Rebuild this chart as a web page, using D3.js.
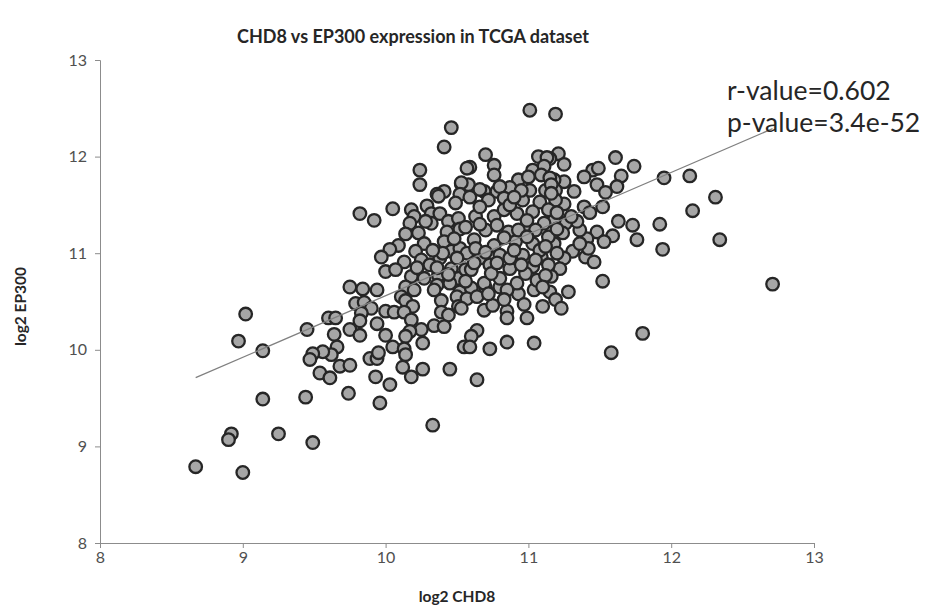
<!DOCTYPE html>
<html>
<head>
<meta charset="utf-8">
<script src="https://cdn.jsdelivr.net/npm/d3@7"></script>
<style>
  html, body { margin: 0; padding: 0; background: #fff; }
  svg { display: block; font-family: Lato, "Open Sans", sans-serif; }
</style>
</head>
<body>
<svg id="chart" width="925" height="605"></svg>
<script>
// Sample expression values (log2) for each tumour sample
const chd8 = [
  9.02, 8.97, 9.14, 9.45, 9.60, 9.65, 9.75, 9.84, 9.94, 9.79, 9.85, 9.90, 9.83, 9.82, 9.75, 9.82, 9.94, 9.64, 9.66, 9.62,
  9.56, 9.49, 9.47, 9.68, 9.75, 9.89, 9.94, 9.54, 9.61, 9.93, 9.74, 9.44, 9.14, 9.96, 8.92, 8.90, 9.25, 9.49, 8.67, 9.00,
  11.74, 11.95, 12.13, 12.31, 12.15, 11.73, 11.92, 11.76, 12.34, 11.94, 12.71, 11.80,
  11.19, 11.21, 11.25, 11.15, 11.61, 11.45, 11.49, 11.39, 11.65, 11.48, 11.62, 11.54, 11.25, 11.18, 11.32, 11.19,
  11.01, 10.70, 10.59, 10.76, 10.76, 11.07, 11.13, 11.03, 11.11, 11.09, 10.93, 11.00, 10.87, 11.15, 10.53, 10.58,
  10.69, 10.78, 11.01, 11.12, 11.16, 10.80,
  10.46, 10.41, 10.24, 10.24, 10.57, 10.53, 10.41, 10.36, 10.52, 9.82, 9.92,
  10.05, 10.18, 10.20, 10.17, 10.29, 10.37, 10.49, 10.32, 10.38, 10.32, 10.44, 10.51, 10.23, 10.43, 10.52, 10.27, 10.41,
  10.09, 10.03, 9.97, 10.21, 10.13, 10.25, 10.46, 10.38, 10.52, 10.31, 10.00, 10.07, 10.18, 10.27, 10.37, 10.46, 10.51,
  10.14, 10.36, 10.45, 10.56,
  10.11, 10.20, 10.34, 10.52, 10.14, 10.19, 10.39, 10.50, 10.51, 10.00, 10.06, 10.13, 10.39, 10.44, 10.18, 10.25, 10.34,
  10.41, 10.17, 10.00, 10.14, 10.26, 10.05, 10.13, 10.14, 9.95, 10.12, 10.26, 10.18, 10.45, 10.03, 10.55,
  10.60, 10.70, 10.80, 10.93, 11.04, 11.15, 10.57, 10.64, 10.53, 10.69, 10.75, 10.85, 10.85, 10.99, 11.19, 10.64, 10.60,
  10.59, 10.73, 10.85, 11.04, 10.64, 10.33,
  11.28, 11.23, 11.52, 11.58,
  11.25, 11.19, 11.52, 11.39, 11.43, 11.63, 11.48, 11.59, 11.53, 11.41, 11.36, 11.34, 11.26, 11.18, 11.24, 11.18, 11.31,
  11.40, 11.46, 11.25, 11.22, 11.16, 11.42, 11.20,
  10.59, 10.72, 10.83, 10.96, 11.08, 11.16, 10.63, 10.76, 10.83, 10.92, 11.03, 11.14, 10.56, 10.70, 10.86, 10.99, 11.11,
  10.62, 10.76, 10.91, 11.03, 11.14, 10.57, 10.66, 10.80, 10.96, 11.09, 10.60, 10.73, 10.87, 11.03, 11.14, 10.56, 10.69,
  10.80, 10.92, 11.06, 10.66, 10.87, 10.99, 10.78, 11.08, 10.87, 10.74, 10.98, 11.12, 10.63, 10.93, 11.05, 11.12,
  10.66, 10.83, 10.99, 10.70, 10.90, 11.05, 10.78, 10.95, 10.62, 10.50, 10.48, 10.95, 10.90, 10.66, 11.20, 11.20, 11.10,
  10.85, 10.72, 10.40, 10.33, 10.28, 10.36, 10.44, 10.22, 10.14, 11.36, 11.30, 10.97, 10.83, 11.10
];
const ep300 = [
  10.37, 10.09, 9.99, 10.21, 10.33, 10.33, 10.65, 10.63, 10.62, 10.48, 10.49, 10.43, 10.38, 10.30, 10.21, 10.15, 10.27, 10.16, 10.03, 9.95,
  9.98, 9.96, 9.90, 9.83, 9.84, 9.91, 9.91, 9.76, 9.71, 9.72, 9.55, 9.51, 9.49, 9.45, 9.13, 9.07, 9.13, 9.04, 8.79, 8.73,
  11.90, 11.78, 11.80, 11.58, 11.44, 11.29, 11.30, 11.14, 11.14, 11.04, 10.68, 10.17,
  12.44, 12.03, 11.92, 11.98, 11.99, 11.86, 11.88, 11.79, 11.80, 11.71, 11.69, 11.63, 11.74, 11.76, 11.64, 11.65,
  12.48, 12.02, 11.89, 11.91, 11.81, 12.00, 11.99, 11.86, 11.90, 11.81, 11.76, 11.79, 11.68, 11.78, 11.72, 11.71,
  11.64, 11.64, 11.65, 11.65, 11.71, 11.69,
  12.30, 12.10, 11.86, 11.71, 11.88, 11.73, 11.64, 11.61, 11.61, 11.41, 11.34,
  11.46, 11.45, 11.38, 11.31, 11.49, 11.59, 11.52, 11.41, 11.41, 11.31, 11.33, 11.36, 11.21, 11.22, 11.25, 11.10, 11.12,
  11.08, 11.04, 10.96, 11.02, 10.91, 10.93, 11.02, 10.95, 11.05, 10.88, 10.81, 10.83, 10.76, 10.74, 10.77, 10.84, 10.74,
  10.65, 10.67, 10.69, 10.83,
  10.55, 10.62, 10.62, 10.60, 10.51, 10.45, 10.51, 10.55, 10.45, 10.40, 10.39, 10.39, 10.39, 10.36, 10.31, 10.21, 10.25,
  10.24, 10.19, 10.15, 10.14, 10.07, 10.03, 10.01, 9.95, 9.97, 9.82, 9.80, 9.72, 9.80, 9.64, 10.03,
  10.64, 10.64, 10.65, 10.58, 10.62, 10.60, 10.53, 10.55, 10.43, 10.41, 10.46, 10.40, 10.33, 10.33, 10.52, 10.20, 10.14,
  10.03, 10.01, 10.08, 10.07, 9.69, 9.22,
  10.60, 10.43, 10.71, 9.97,
  11.51, 11.55, 11.48, 11.48, 11.42, 11.33, 11.22, 11.18, 11.12, 11.15, 11.24, 11.33, 11.31, 11.34, 11.21, 11.10, 11.02,
  10.96, 10.91, 10.95, 10.84, 10.76, 11.05, 11.00,
  11.58, 11.55, 11.57, 11.55, 11.53, 11.62, 11.38, 11.38, 11.45, 11.41, 11.43, 11.45, 11.27, 11.24, 11.22, 11.24, 11.31,
  11.14, 11.08, 11.12, 11.10, 11.17, 11.00, 10.95, 10.98, 10.98, 10.96, 10.83, 10.88, 10.84, 10.86, 10.88, 10.71, 10.69,
  10.74, 10.69, 10.72, 11.48, 11.50, 11.34, 11.29, 11.03, 10.95, 10.79, 10.79, 10.77, 11.05, 11.24, 11.24, 11.07,
  11.30, 11.16, 11.17, 11.01, 11.03, 10.93, 10.90, 10.88, 10.90, 10.95, 11.15, 11.65, 11.58, 11.66, 11.42, 11.25, 10.65,
  10.62, 10.58, 11.00, 11.03, 11.33, 10.85, 10.78, 10.85, 11.20, 11.10, 11.38, 10.47, 10.52, 10.45
];

// Axis ticks
const xTicks = [8, 9, 10, 11, 12, 13];
const yTicks = [8, 9, 10, 11, 12, 13];

// Linear trend line (least-squares fit) and its statistics
const trendSlope = 0.638;
const trendIntercept = 4.18;
const statLines = ["r-value=0.602", "p-value=3.4e-52"];

const titleText = "CHD8 vs EP300 expression in TCGA dataset";
const xTitle = "log2 CHD8";
const yTitle = "log2 EP300";

const svg = d3.select("#chart");
const margin = { left: 100, right: 111, top: 60, bottom: 62 };
const W = 925, H = 605;

const x = d3.scaleLinear().domain([8, 13]).range([margin.left, W - margin.right]);
const y = d3.scaleLinear().domain([8, 13]).range([H - margin.bottom, margin.top]);

svg.append("rect").attr("width", W).attr("height", H).attr("fill", "#fff");

// Axes
const axisColor = "#8c8c8c";
const xAxis = svg.append("g")
  .attr("transform", `translate(0,${y(8)})`)
  .call(d3.axisBottom(x).tickValues(xTicks).tickSize(5).tickPadding(4).tickFormat(d3.format("d")));
const yAxis = svg.append("g")
  .attr("transform", `translate(${x(8)},0)`)
  .call(d3.axisLeft(y).tickValues(yTicks).tickSize(5).tickPadding(8).tickFormat(d3.format("d")));
[xAxis, yAxis].forEach(g => {
  g.select(".domain").attr("stroke", axisColor).attr("stroke-width", 1);
  g.selectAll(".tick line").attr("stroke", axisColor);
  g.selectAll(".tick text")
    .attr("fill", "#505050")
    .style("font-family", "Lato, sans-serif")
    .style("font-size", "16px");
});

// Data points
svg.append("g")
  .selectAll("circle")
  .data(chd8.map((v, i) => [v, ep300[i]]))
  .join("circle")
  .attr("cx", d => x(d[0]))
  .attr("cy", d => y(d[1]))
  .attr("r", 6.3)
  .attr("fill", "#a6a6a6")
  .attr("stroke", "#262626")
  .attr("stroke-width", 2.3);

// Trend line across the range of observed CHD8 values
const [xMin, xMax] = d3.extent(chd8);
svg.append("line")
  .attr("x1", x(xMin)).attr("y1", y(trendIntercept + trendSlope * xMin))
  .attr("x2", x(xMax)).attr("y2", y(trendIntercept + trendSlope * xMax))
  .attr("stroke", "#808080")
  .attr("stroke-width", 1.3);

// Correlation statistics
svg.append("g")
  .selectAll("text")
  .data(statLines)
  .join("text")
  .attr("x", 727)
  .attr("y", (d, i) => 100 + i * 32)
  .attr("fill", "#262626")
  .style("font-family", "Lato, sans-serif")
  .style("font-size", "26.5px")
  .text(d => d);

// Titles
svg.append("text")
  .attr("x", 413).attr("y", 43)
  .attr("text-anchor", "middle")
  .attr("fill", "#262626")
  .style("font-weight", "bold")
  .style("font-size", "18px")
  .text(titleText);

svg.append("text")
  .attr("x", x(10.5)).attr("y", 602)
  .attr("text-anchor", "middle")
  .attr("fill", "#262626")
  .style("font-weight", "bold")
  .style("font-size", "15.5px")
  .text(xTitle);

svg.append("text")
  .attr("transform", `translate(26,${y(10.5) + 5}) rotate(-90)`)
  .attr("text-anchor", "middle")
  .attr("fill", "#262626")
  .style("font-weight", "bold")
  .style("font-size", "15.5px")
  .text(yTitle);
</script>
</body>
</html>
